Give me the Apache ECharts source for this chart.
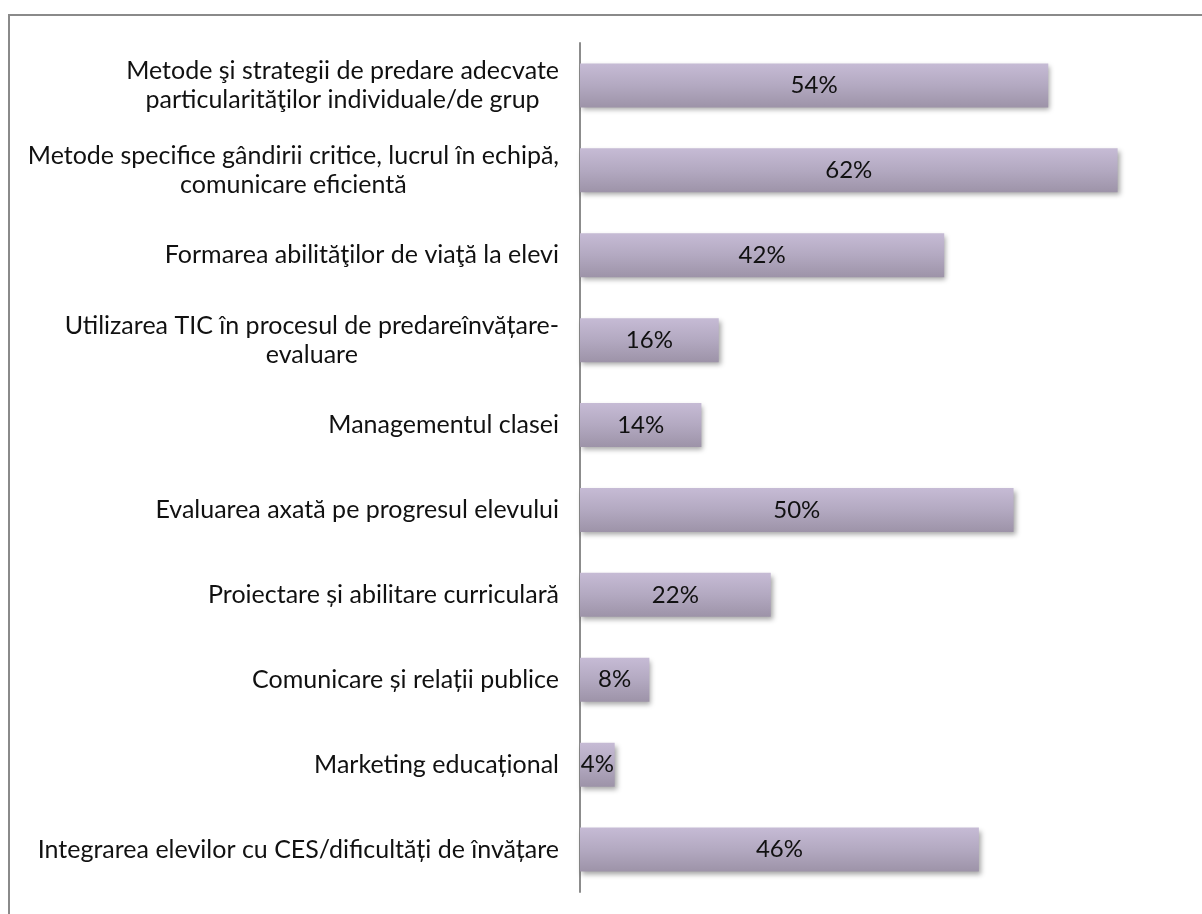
<!DOCTYPE html>
<html>
<head>
<meta charset="utf-8">
<script src="https://cdn.jsdelivr.net/npm/echarts@6/dist/echarts.min.js"></script>
<style>
  html, body { margin: 0; padding: 0; background: #fff; }
  #chart { width: 1202px; height: 914px; }
</style>
</head>
<body>
<div id="chart"></div>
<script>
// categories, top to bottom
var categories = [
  "Metode şi strategii de predare adecvate\nparticularităţilor individuale/de grup",
  "Metode specifice gândirii critice, lucrul în echipă,\ncomunicare eficientă",
  "Formarea abilităţilor de viaţă la elevi",
  "Utilizarea TIC în procesul de predareînvățare-\nevaluare",
  "Managementul clasei",
  "Evaluarea axată pe progresul elevului",
  "Proiectare și abilitare curriculară",
  "Comunicare și relații publice",
  "Marketing educațional",
  "Integrarea elevilor cu CES/dificultăți de învățare"
];
var percents = [54, 62, 42, 16, 14, 50, 22, 8, 4, 46];

var myChart = echarts.init(document.getElementById("chart"));
var font = "Lato, 'Open Sans', sans-serif";

var option = {
  animation: false,
  graphic: [
    {
      type: "rect",
      shape: { x: 9, y: 15, width: 1400, height: 1200 },
      style: { fill: "none", stroke: "#8a8a8a", lineWidth: 2 },
      silent: true
    }
  ],
  grid: {
    left: 580,
    right: 15,
    top: 43,
    bottom: 22
  },
  xAxis: {
    type: "value",
    min: 0,
    max: 70,
    show: false
  },
  yAxis: {
    type: "category",
    inverse: true,
    data: categories,
    axisTick: { show: false },
    axisLine: {
      show: true,
      lineStyle: { color: "#8c8c8c", width: 2 }
    },
    axisLabel: {
      margin: 21,
      color: "#111",
      fontFamily: font,
      fontSize: 25,
      lineHeight: 29,
      formatter: function (v) {
        return v.split("\n").map(function (l) { return "{c|" + l + "}"; }).join("\n");
      },
      rich: {
        c: {
          align: "center",
          color: "#111",
          fontFamily: font,
          fontSize: 25,
          lineHeight: 29
        }
      }
    }
  },
  series: [
    {
      type: "bar",
      data: percents,
      barWidth: 44,
      itemStyle: {
        color: new echarts.graphic.LinearGradient(0, 0, 0, 1, [
          { offset: 0, color: "#c6bbd5" },
          { offset: 0.5, color: "#b3a9c1" },
          { offset: 1, color: "#9d93a8" }
        ]),
        shadowColor: "rgba(0,0,0,0.35)",
        shadowBlur: 5,
        shadowOffsetX: 2,
        shadowOffsetY: 3
      },
      label: {
        show: true,
        position: "inside",
        formatter: "{c}%",
        color: "#111",
        fontFamily: font,
        fontSize: 24
      }
    }
  ]
};
myChart.setOption(option);
</script>
</body>
</html>
